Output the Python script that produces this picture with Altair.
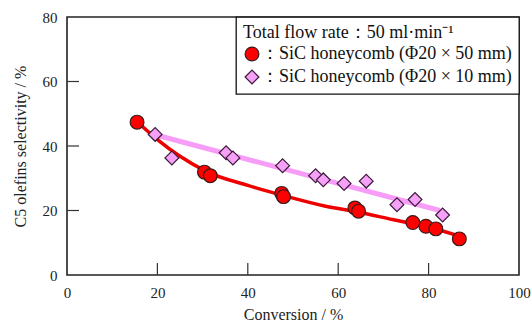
import altair as alt
import pandas as pd

series_names = ["：SiC honeycomb (Φ20 × 50 mm)", "：SiC honeycomb (Φ20 × 10 mm)"]
legend_title = "Total flow rate：50 ml·min⁻¹"

# Red circles (Φ20 × 50 mm)
red_x = [15.5, 30.4, 31.7, 47.5, 47.9, 63.7, 64.5, 76.5, 79.4, 81.6, 86.8]
red_y = [47.4, 31.9, 30.8, 25.3, 24.3, 20.8, 19.8, 16.3, 15.1, 14.3, 11.2]

# Pink diamonds (Φ20 × 10 mm)
pink_x = [19.5, 23.2, 35.2, 36.7, 47.7, 55.0, 56.7, 61.3, 66.2, 73.0, 77.0, 83.1]
pink_y = [43.6, 36.3, 37.9, 36.3, 33.9, 30.8, 29.5, 28.4, 29.1, 21.8, 23.4, 18.6]

# Fitted curves
red_fit_x = [15.5, 20, 25, 31, 40, 48, 57, 64, 72, 80, 86.5]
red_fit_y = [47.5, 42.0, 36.8, 32.0, 27.8, 24.6, 21.4, 19.6, 17.2, 14.8, 12.2]
pink_fit_x = [19.5, 82.5]
pink_fit_y = [43.5, 20.0]

x_ticks = [20, 40, 60, 80]
y_ticks = [20, 40, 60]

W, H = 452, 258
serif = "Liberation Serif"

pts = pd.DataFrame({
    "x": red_x + pink_x,
    "y": red_y + pink_y,
    "s": [series_names[0]] * len(red_x) + [series_names[1]] * len(pink_x),
})
red_fit = pd.DataFrame({"x": red_fit_x, "y": red_fit_y})
pink_fit = pd.DataFrame({"x": pink_fit_x, "y": pink_fit_y})

xs = alt.Scale(domain=[0, 100], nice=False, zero=False)
ys = alt.Scale(domain=[0, 80], nice=False, zero=False)

xax = alt.Axis(values=[0, 20, 40, 60, 80, 100], tickSize=0, grid=False, domain=False,
               labelPadding=10, titlePadding=6, labelFont=serif, labelFontSize=15,
               titleFont=serif, titleFontSize=16, titleFontWeight="normal",
               labelColor="#222", titleColor="#222", labelFlush=False)
yax = alt.Axis(values=[0, 20, 40, 60, 80], tickSize=0, grid=False, domain=False,
               labelPadding=10, titlePadding=14, labelFont=serif, labelFontSize=15,
               titleFont=serif, titleFontSize=16, titleFontWeight="normal",
               labelColor="#222", titleColor="#222", labelFlush=False)

pink_line = alt.Chart(pink_fit).mark_line(color="#f79cf7", strokeWidth=5).encode(
    x=alt.X("x:Q", scale=xs, axis=xax, title="Conversion / %"),
    y=alt.Y("y:Q", scale=ys, axis=yax, title="C5 olefins selectivity / %"),
)
red_line = alt.Chart(red_fit).mark_line(color="#ee0000", strokeWidth=3.5, interpolate="monotone").encode(
    x=alt.X("x:Q", scale=xs),
    y=alt.Y("y:Q", scale=ys),
)

leg = alt.Legend(title=legend_title)
points = alt.Chart(pts).mark_point(filled=True, opacity=1, strokeWidth=1.2).encode(
    x=alt.X("x:Q", scale=xs),
    y=alt.Y("y:Q", scale=ys),
    fill=alt.Fill("s:N", scale=alt.Scale(domain=series_names, range=["#ff0000", "#f7a0f7"]), legend=leg),
    shape=alt.Shape("s:N", scale=alt.Scale(domain=series_names, range=["circle", "diamond"]), legend=leg),
    stroke=alt.Stroke("s:N", scale=alt.Scale(domain=series_names, range=["#3a1a1a", "#3a1a3a"]), legend=leg),
    size=alt.value(190),
)

xt = pd.DataFrame({"t": x_ticks})
yt = pd.DataFrame({"t": y_ticks})
xtick_rules = alt.Chart(xt).mark_rule(color="#333", strokeWidth=1.2).encode(
    x=alt.X("t:Q", scale=xs), y=alt.value(H), y2=alt.value(H - 12))
ytick_rules = alt.Chart(yt).mark_rule(color="#333", strokeWidth=1.2).encode(
    y=alt.Y("t:Q", scale=ys), x=alt.value(0), x2=alt.value(12))

chart = alt.layer(pink_line, red_line, points, xtick_rules, ytick_rules).properties(
    width=W, height=H,
    autosize=alt.AutoSizeParams(type="none"),
    padding={"left": 67, "top": 17, "right": 13, "bottom": 48},
    background="white",
).configure_view(
    stroke="#222", strokeWidth=1.6,
).configure_legend(
    orient="top-right", offset=0,
    strokeColor="#111", strokeWidth=1.3, fillColor="white",
    padding=7, cornerRadius=0,
    titleFont=serif, titleFontSize=18, titleFontWeight="normal", titleColor="#111",
    titlePadding=3, titleLimit=400,
    labelFont=serif, labelFontSize=18, labelColor="#111", labelLimit=400,
    labelOffset=0, rowPadding=3,
    symbolSize=190, symbolStrokeWidth=1.2,
)

chart.save("out.html", embed_options={"renderer": "svg", "actions": False})
